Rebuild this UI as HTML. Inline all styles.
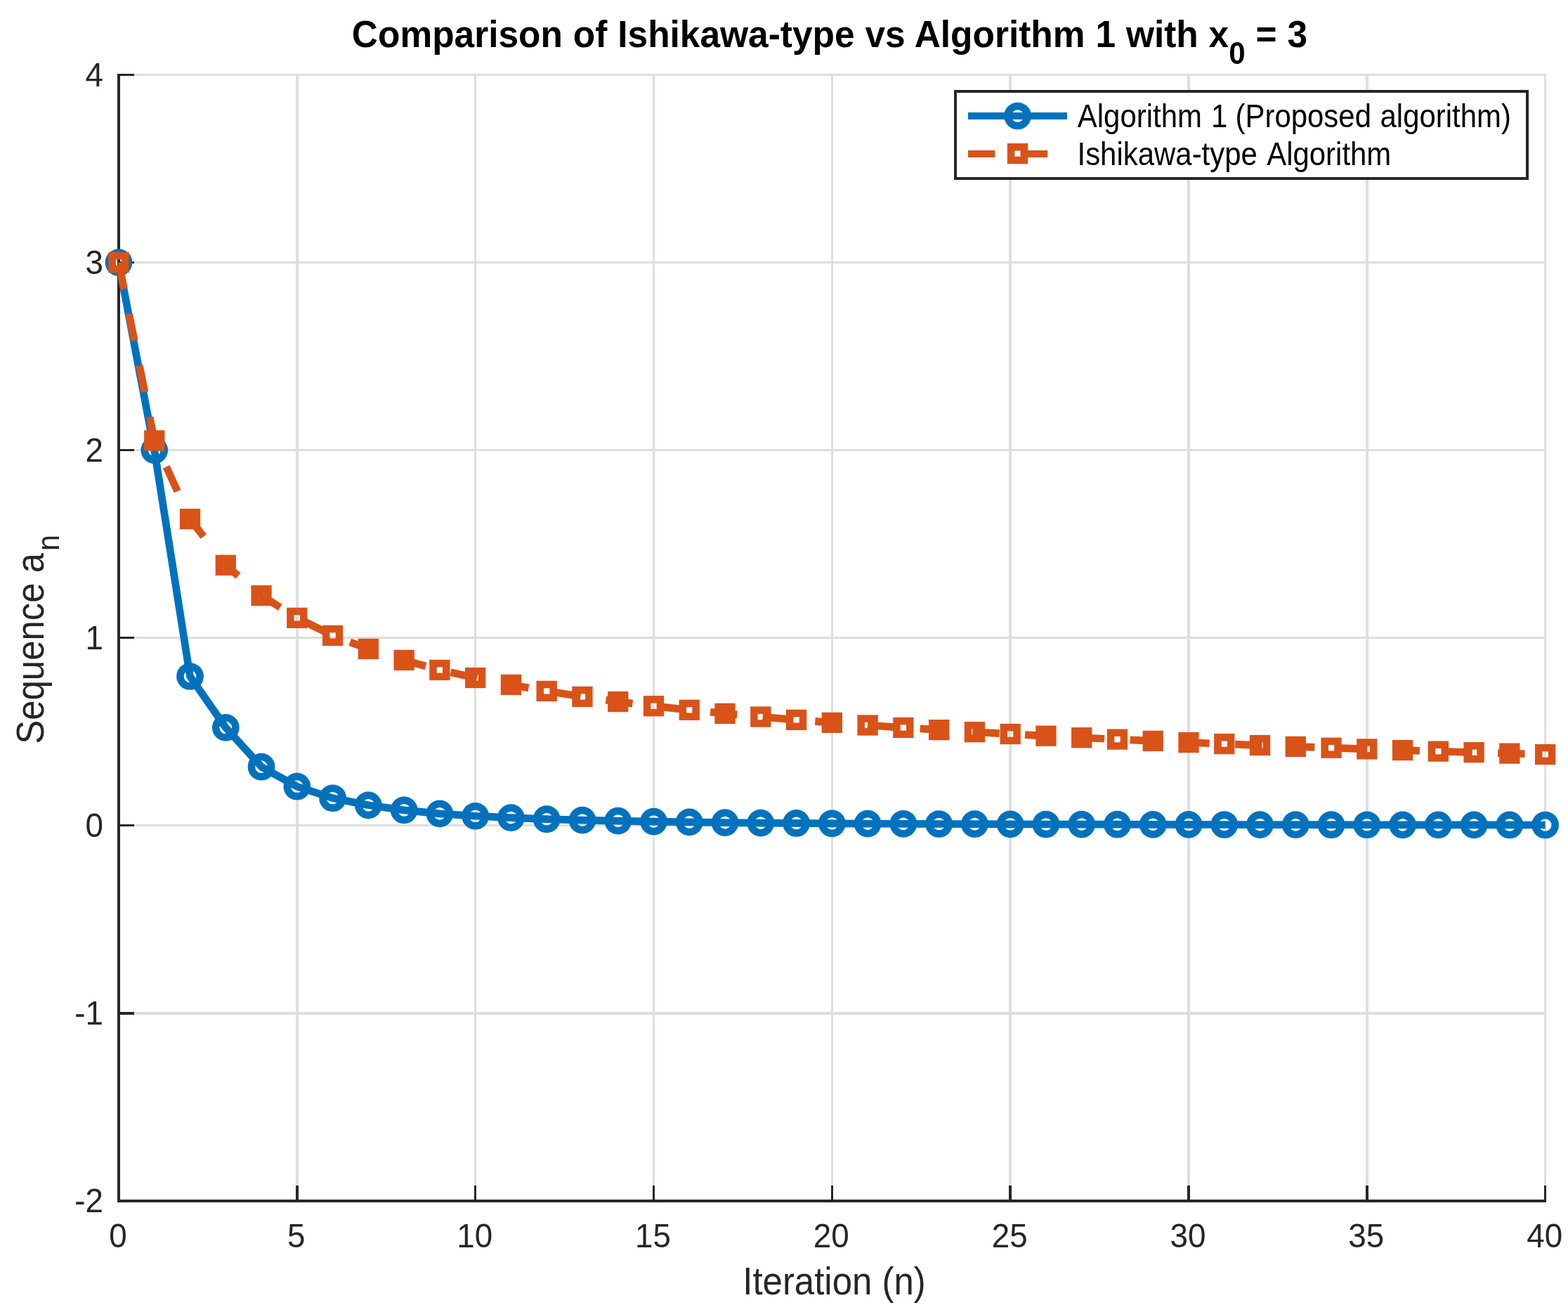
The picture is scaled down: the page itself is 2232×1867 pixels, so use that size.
<!DOCTYPE html>
<html lang="en"><head><meta charset="utf-8">
<title>Comparison of Ishikawa-type vs Algorithm 1 with x0 = 3</title>
<style>
html,body{margin:0;padding:0;background:#fff;}
body{width:2232px;height:1867px;overflow:hidden;}
svg{display:block;}
text{font-family:"Liberation Sans",sans-serif;}
.tk{font-size:45.8px;fill:#262626;}
.lb{font-size:50.95px;fill:#262626;}
.tt{font-size:51.45px;font-weight:bold;fill:#000;word-spacing:0.6px;}
.lg{font-size:41.95px;fill:#000;}
</style></head><body>
<svg width="2232" height="1867" viewBox="0 0 2232 1867">
<rect x="0" y="0" width="2232" height="1867" fill="#fff"/>
<defs><clipPath id="ax"><rect x="168" y="105.4" width="2031.95" height="1604.48"/></clipPath></defs>
<g fill="#dedede">
<rect x="167" y="105" width="4" height="1606"/>
<rect x="421" y="105" width="4" height="1606"/>
<rect x="675" y="105" width="3" height="1606"/>
<rect x="929" y="105" width="3" height="1606"/>
<rect x="1183" y="105" width="3" height="1606"/>
<rect x="1436" y="105" width="4" height="1606"/>
<rect x="1690" y="105" width="4" height="1606"/>
<rect x="1944" y="105" width="4" height="1606"/>
<rect x="2198" y="105" width="3" height="1606"/>
<rect x="167" y="1707" width="2034" height="4"/>
<rect x="167" y="1440" width="2034" height="4"/>
<rect x="167" y="1173" width="2034" height="3"/>
<rect x="167" y="906" width="2034" height="3"/>
<rect x="167" y="639" width="2034" height="3"/>
<rect x="167" y="372" width="2034" height="3"/>
<rect x="167" y="105" width="2034" height="3"/>
</g>
<g fill="#262626">
<rect x="167" y="105" width="4" height="1606"/>
<rect x="167" y="1707" width="2034" height="4"/>
<rect x="167" y="1687" width="4" height="22"/>
<rect x="421" y="1687" width="4" height="22"/>
<rect x="675" y="1687" width="3" height="22"/>
<rect x="929" y="1687" width="3" height="22"/>
<rect x="1183" y="1687" width="3" height="22"/>
<rect x="1436" y="1687" width="4" height="22"/>
<rect x="1690" y="1687" width="4" height="22"/>
<rect x="1944" y="1687" width="4" height="22"/>
<rect x="2198" y="1687" width="3" height="22"/>
<rect x="169" y="1707" width="22" height="4"/>
<rect x="169" y="1440" width="22" height="4"/>
<rect x="169" y="1173" width="22" height="3"/>
<rect x="169" y="906" width="22" height="3"/>
<rect x="169" y="639" width="22" height="3"/>
<rect x="169" y="372" width="22" height="3"/>
<rect x="169" y="105" width="22" height="3"/>
</g>
<g>
<text class="tk" text-anchor="middle" transform="translate(168 1775) scale(1.0 1.05)">0</text>
<text class="tk" text-anchor="middle" transform="translate(421.83 1775) scale(1.0 1.05)">5</text>
<text class="tk" text-anchor="middle" transform="translate(675.66 1775) scale(1.0 1.05)">10</text>
<text class="tk" text-anchor="middle" transform="translate(929.49 1775) scale(1.0 1.05)">15</text>
<text class="tk" text-anchor="middle" transform="translate(1183.33 1775) scale(1.0 1.05)">20</text>
<text class="tk" text-anchor="middle" transform="translate(1437.16 1775) scale(1.0 1.05)">25</text>
<text class="tk" text-anchor="middle" transform="translate(1690.99 1775) scale(1.0 1.05)">30</text>
<text class="tk" text-anchor="middle" transform="translate(1944.82 1775) scale(1.0 1.05)">35</text>
<text class="tk" text-anchor="middle" transform="translate(2198.65 1775) scale(1.0 1.05)">40</text>
<text class="tk" text-anchor="end" transform="translate(147 1725.28) scale(1.0 1.05)">-2</text>
<text class="tk" text-anchor="end" transform="translate(147 1458.2) scale(1.0 1.05)">-1</text>
<text class="tk" text-anchor="end" transform="translate(147 1191.12) scale(1.0 1.05)">0</text>
<text class="tk" text-anchor="end" transform="translate(147 924.04) scale(1.0 1.05)">1</text>
<text class="tk" text-anchor="end" transform="translate(147 656.96) scale(1.0 1.05)">2</text>
<text class="tk" text-anchor="end" transform="translate(147 389.88) scale(1.0 1.05)">3</text>
<text class="tk" text-anchor="end" transform="translate(147 122.8) scale(1.0 1.05)">4</text>
</g>
<text class="lb" text-anchor="middle" transform="translate(1187.5 1842) scale(1.0 1.081)">Iteration (n)</text>
<text class="lb" text-anchor="start" transform="translate(62.4 1058.8) rotate(-90) scale(1.0 1.081)">Sequence a<tspan dx="3" dy="20.1" font-size="40.76px">n</tspan></text>
<text class="tt" text-anchor="middle" transform="translate(1181 67.4) scale(1.0 1.06)">Comparison of Ishikawa-type vs Algorithm 1 with x<tspan dy="22" font-size="42.19px">0</tspan><tspan dy="-22"> = 3</tspan></text>
<g fill="none" stroke-width="10.7" stroke-linejoin="round">
<polyline clip-path="url(#ax)" stroke="#0072bd" points="169,373.48 219.77,640.56 270.53,962.5 321.3,1035.38 372.06,1091.2 422.83,1119.22 473.6,1135.73 524.36,1145.82 575.13,1152.87 625.9,1157.81 676.66,1161.23 727.43,1163.61 778.2,1165.72 828.96,1167.11 879.73,1168.12 930.49,1169.11 981.26,1169.92 1032.03,1170.56 1082.79,1171.09 1133.56,1171.46 1184.33,1171.78 1235.09,1172.06 1285.86,1172.29 1336.62,1172.5 1387.39,1172.68 1438.16,1172.84 1488.92,1172.98 1539.69,1173.11 1590.46,1173.22 1641.22,1173.32 1691.99,1173.41 1742.75,1173.5 1793.52,1173.57 1844.29,1173.64 1895.05,1173.7 1945.82,1173.76 1996.59,1173.81 2047.35,1173.86 2098.12,1173.91 2148.88,1173.95 2199.65,1173.99"/>
<g stroke="#0072bd" stroke-width="10.5">
<circle cx="169" cy="373.48" r="14.1"/>
<circle cx="219.77" cy="640.56" r="14.1"/>
<circle cx="270.53" cy="962.5" r="14.1"/>
<circle cx="321.3" cy="1035.38" r="14.1"/>
<circle cx="372.06" cy="1091.2" r="14.1"/>
<circle cx="422.83" cy="1119.22" r="14.1"/>
<circle cx="473.6" cy="1135.73" r="14.1"/>
<circle cx="524.36" cy="1145.82" r="14.1"/>
<circle cx="575.13" cy="1152.87" r="14.1"/>
<circle cx="625.9" cy="1157.81" r="14.1"/>
<circle cx="676.66" cy="1161.23" r="14.1"/>
<circle cx="727.43" cy="1163.61" r="14.1"/>
<circle cx="778.2" cy="1165.72" r="14.1"/>
<circle cx="828.96" cy="1167.11" r="14.1"/>
<circle cx="879.73" cy="1168.12" r="14.1"/>
<circle cx="930.49" cy="1169.11" r="14.1"/>
<circle cx="981.26" cy="1169.92" r="14.1"/>
<circle cx="1032.03" cy="1170.56" r="14.1"/>
<circle cx="1082.79" cy="1171.09" r="14.1"/>
<circle cx="1133.56" cy="1171.46" r="14.1"/>
<circle cx="1184.33" cy="1171.78" r="14.1"/>
<circle cx="1235.09" cy="1172.06" r="14.1"/>
<circle cx="1285.86" cy="1172.29" r="14.1"/>
<circle cx="1336.62" cy="1172.5" r="14.1"/>
<circle cx="1387.39" cy="1172.68" r="14.1"/>
<circle cx="1438.16" cy="1172.84" r="14.1"/>
<circle cx="1488.92" cy="1172.98" r="14.1"/>
<circle cx="1539.69" cy="1173.11" r="14.1"/>
<circle cx="1590.46" cy="1173.22" r="14.1"/>
<circle cx="1641.22" cy="1173.32" r="14.1"/>
<circle cx="1691.99" cy="1173.41" r="14.1"/>
<circle cx="1742.75" cy="1173.5" r="14.1"/>
<circle cx="1793.52" cy="1173.57" r="14.1"/>
<circle cx="1844.29" cy="1173.64" r="14.1"/>
<circle cx="1895.05" cy="1173.7" r="14.1"/>
<circle cx="1945.82" cy="1173.76" r="14.1"/>
<circle cx="1996.59" cy="1173.81" r="14.1"/>
<circle cx="2047.35" cy="1173.86" r="14.1"/>
<circle cx="2098.12" cy="1173.91" r="14.1"/>
<circle cx="2148.88" cy="1173.95" r="14.1"/>
<circle cx="2199.65" cy="1173.99" r="14.1"/>
</g>
<polyline clip-path="url(#ax)" stroke="#d95319" stroke-dasharray="38.4 36.45" points="169,373.48 219.77,626.94 270.53,738.58 321.3,804.28 372.06,847.49 422.83,879.3 473.6,904.41 524.36,923.48 575.13,939.45 625.9,953.44 676.66,964.53 727.43,974.44 778.2,983.44 828.96,991.45 879.73,998.55 930.49,1004.72 981.26,1010.31 1032.03,1015.4 1082.79,1020.06 1133.56,1024.36 1184.33,1028.33 1235.09,1032.02 1285.86,1035.46 1336.62,1038.68 1387.39,1041.7 1438.16,1044.53 1488.92,1047.21 1539.69,1049.74 1590.46,1052.13 1641.22,1054.4 1691.99,1056.56 1742.75,1058.62 1793.52,1060.58 1844.29,1062.45 1895.05,1064.24 1945.82,1065.96 1996.59,1067.6 2047.35,1069.18 2098.12,1070.7 2148.88,1072.16 2199.65,1073.57"/>
<g stroke="#d95319" stroke-width="10.5" stroke-linejoin="miter">
<rect x="159.6" y="364.08" width="18.8" height="18.8"/>
<rect x="210.37" y="617.54" width="18.8" height="18.8"/>
<rect x="261.13" y="729.18" width="18.8" height="18.8"/>
<rect x="311.9" y="794.88" width="18.8" height="18.8"/>
<rect x="362.67" y="838.09" width="18.8" height="18.8"/>
<rect x="413.43" y="869.9" width="18.8" height="18.8"/>
<rect x="464.2" y="895.01" width="18.8" height="18.8"/>
<rect x="514.96" y="914.08" width="18.8" height="18.8"/>
<rect x="565.73" y="930.05" width="18.8" height="18.8"/>
<rect x="616.5" y="944.04" width="18.8" height="18.8"/>
<rect x="667.26" y="955.13" width="18.8" height="18.8"/>
<rect x="718.03" y="965.04" width="18.8" height="18.8"/>
<rect x="768.8" y="974.04" width="18.8" height="18.8"/>
<rect x="819.56" y="982.05" width="18.8" height="18.8"/>
<rect x="870.33" y="989.15" width="18.8" height="18.8"/>
<rect x="921.09" y="995.32" width="18.8" height="18.8"/>
<rect x="971.86" y="1000.91" width="18.8" height="18.8"/>
<rect x="1022.63" y="1006" width="18.8" height="18.8"/>
<rect x="1073.39" y="1010.66" width="18.8" height="18.8"/>
<rect x="1124.16" y="1014.96" width="18.8" height="18.8"/>
<rect x="1174.92" y="1018.93" width="18.8" height="18.8"/>
<rect x="1225.69" y="1022.62" width="18.8" height="18.8"/>
<rect x="1276.46" y="1026.06" width="18.8" height="18.8"/>
<rect x="1327.22" y="1029.28" width="18.8" height="18.8"/>
<rect x="1377.99" y="1032.3" width="18.8" height="18.8"/>
<rect x="1428.76" y="1035.13" width="18.8" height="18.8"/>
<rect x="1479.52" y="1037.81" width="18.8" height="18.8"/>
<rect x="1530.29" y="1040.34" width="18.8" height="18.8"/>
<rect x="1581.06" y="1042.73" width="18.8" height="18.8"/>
<rect x="1631.82" y="1045" width="18.8" height="18.8"/>
<rect x="1682.59" y="1047.16" width="18.8" height="18.8"/>
<rect x="1733.35" y="1049.22" width="18.8" height="18.8"/>
<rect x="1784.12" y="1051.18" width="18.8" height="18.8"/>
<rect x="1834.89" y="1053.05" width="18.8" height="18.8"/>
<rect x="1885.65" y="1054.84" width="18.8" height="18.8"/>
<rect x="1936.42" y="1056.56" width="18.8" height="18.8"/>
<rect x="1987.19" y="1058.2" width="18.8" height="18.8"/>
<rect x="2037.95" y="1059.78" width="18.8" height="18.8"/>
<rect x="2088.72" y="1061.3" width="18.8" height="18.8"/>
<rect x="2139.48" y="1062.76" width="18.8" height="18.8"/>
<rect x="2190.25" y="1064.17" width="18.8" height="18.8"/>
</g>
</g>
<rect x="1358" y="128" width="818" height="128" fill="#262626"/>
<rect x="1362" y="132" width="810" height="120" fill="#fff"/>
<g fill="none" stroke-width="10.0">
<line x1="1378" y1="165" x2="1519" y2="165" stroke="#0072bd"/>
<circle cx="1448.6" cy="165" r="14.1" stroke="#0072bd" stroke-width="10.5"/>
<line x1="1378" y1="219" x2="1519" y2="219" stroke="#d95319" stroke-dasharray="38.4 36.45"/>
<rect x="1439.1" y="209.2" width="18.8" height="18.8" stroke="#d95319" stroke-width="10.5"/>
</g>
<text class="lg" text-anchor="start" transform="translate(0 181.2) scale(1.0 1.085)"><tspan x="1533.8">Algorithm </tspan><tspan x="1724">1 </tspan><tspan x="1758.5">(Proposed </tspan><tspan x="1964.5">algorithm)</tspan></text>
<text class="lg" text-anchor="start" transform="translate(0 235.3) scale(1.0 1.085)"><tspan x="1533.5">Ishikawa-type </tspan><tspan x="1803.2">Algorithm</tspan></text>
</svg>
</body></html>
